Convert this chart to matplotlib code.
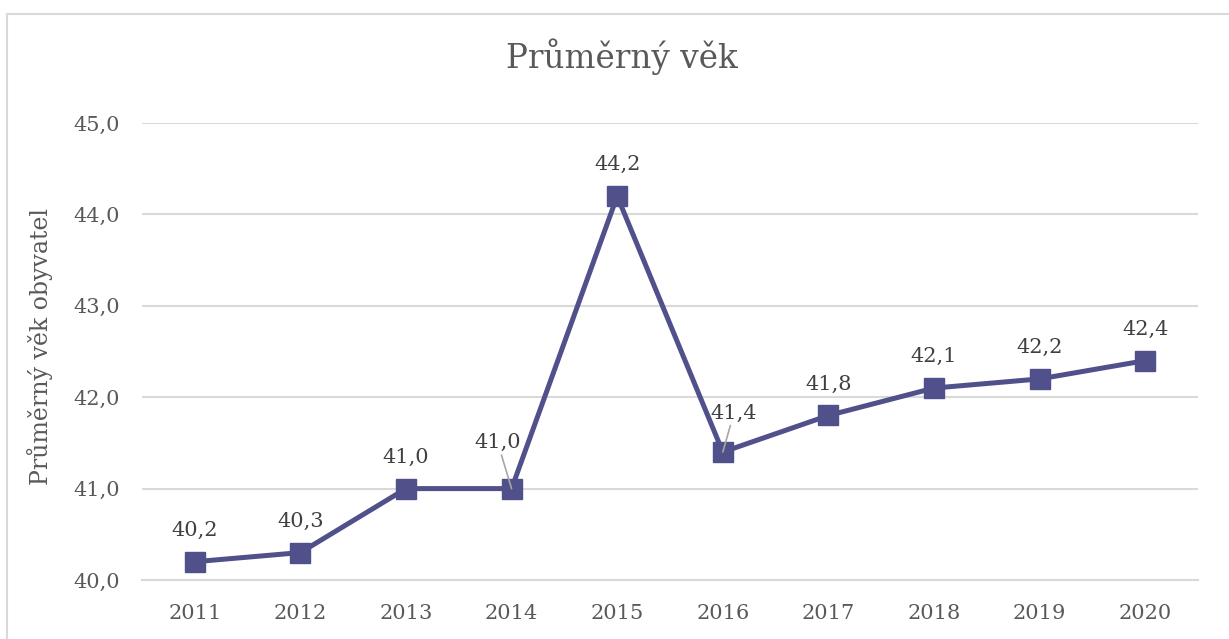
import matplotlib
matplotlib.use("Agg")
import matplotlib.pyplot as plt
from matplotlib.patches import Rectangle

years = ["2011", "2012", "2013", "2014", "2015", "2016", "2017", "2018", "2019", "2020"]
values = [40.2, 40.3, 41.0, 41.0, 44.2, 41.4, 41.8, 42.1, 42.2, 42.4]
yticks = [40.0, 41.0, 42.0, 43.0, 44.0, 45.0]
title = "Průměrný věk"
ylabel = "Průměrný věk obyvatel"

TEXT = "#595959"
LABEL = "#404040"
GRID = "#D9D9D9"
LINE = "#50508B"

plt.rcParams['font.family'] = ['DejaVu Serif']

W, H = 1229, 639
fig = plt.figure(figsize=(W / 100, H / 100), dpi=100)
fig.patch.set_facecolor("white")

ax = fig.add_axes([142 / W, 1 - 580 / H, (1198 - 142) / W, (580 - 123) / H])
x = list(range(len(years)))
ax.plot(x, values, color=LINE, lw=3.6, marker='s', markersize=14.5,
        markerfacecolor=LINE, markeredgecolor=LINE, zorder=3, clip_on=False)

ax.set_xlim(-0.5, len(years) - 0.5)
ax.set_ylim(40, 45)
ax.set_yticks(yticks)
ax.set_yticklabels([f"{v:.1f}".replace(".", ",") for v in yticks])
ax.set_xticks(x)
ax.set_xticklabels(years)
ax.tick_params(axis='y', length=0, pad=16, labelsize=15, labelcolor=TEXT)
ax.tick_params(axis='x', length=0, pad=17, labelsize=15, labelcolor=TEXT)
ax.grid(axis='y', color=GRID, lw=1.5)
ax.set_axisbelow(True)
for s in ['top', 'right', 'left']:
    ax.spines[s].set_visible(False)
ax.spines['bottom'].set_color(GRID)
ax.spines['bottom'].set_linewidth(1.5)

offsets = {3: (-10, 33), 5: (8, 28)}
for i, v in enumerate(values):
    lab = f"{v:.1f}".replace(".", ",")
    if i in offsets:
        ax.annotate(lab, (i, v), xytext=offsets[i], textcoords='offset points',
                    ha='center', va='center', fontsize=15, color=LABEL, zorder=5,
                    arrowprops=dict(arrowstyle='-', color='#A6A6A6', lw=1.2,
                                    shrinkA=0, shrinkB=0))
    else:
        ax.annotate(lab, (i, v), xytext=(0, 22.5), textcoords='offset points',
                    ha='center', va='center', fontsize=15, color=LABEL, zorder=5)

fig.text(621.5 / W, 1 - 57 / H, title, ha='center', va='center', fontsize=23.5, color=TEXT)
fig.text(40 / W, 1 - 347 / H, ylabel, ha='center', va='center', rotation=90,
         fontsize=17, color=TEXT)

fig.add_artist(Rectangle((7 / W, -0.1), 1.2, 1 - 14 / H + 0.1, transform=fig.transFigure,
                         fill=False, edgecolor=GRID, lw=1.5))

fig.savefig("out.png", dpi=100)
